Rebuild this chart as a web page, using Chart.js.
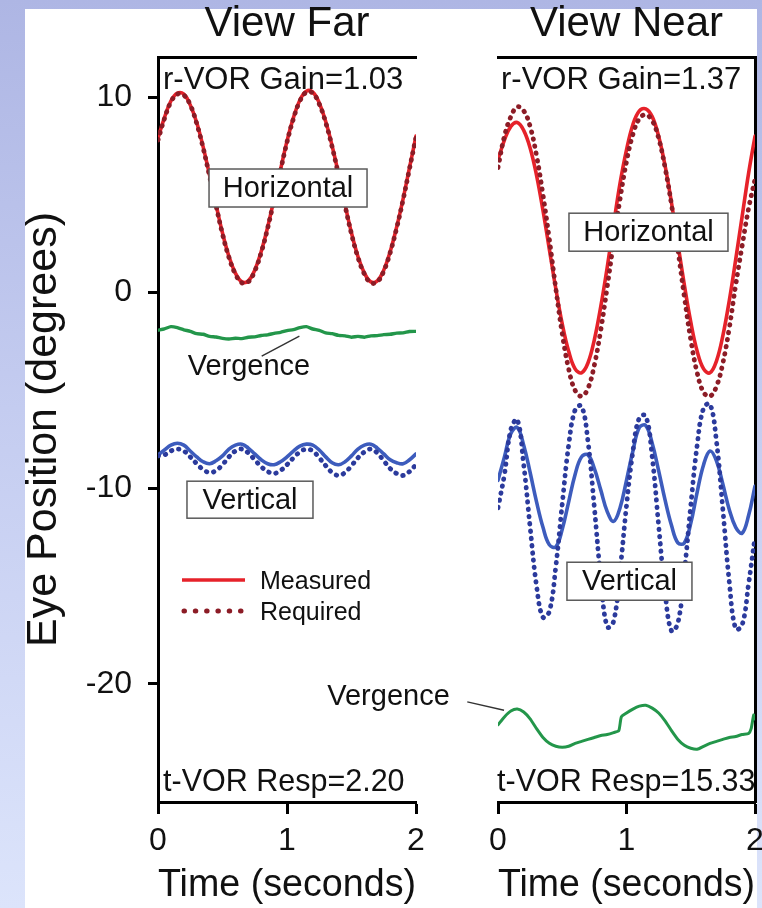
<!DOCTYPE html>
<html><head><meta charset="utf-8">
<script src="https://cdn.jsdelivr.net/npm/chart.js@4.4.1/dist/chart.umd.min.js"></script>
<style>
html,body{margin:0;padding:0;width:762px;height:908px;overflow:hidden;}
body{position:relative;background:linear-gradient(to bottom,#aeb6e4 0%,#c4ccf0 45%,#dce4fb 100%);}
#paper{position:absolute;left:25px;top:9px;width:732px;height:899px;background:#fff;}
canvas{position:absolute;left:0;top:0;}
</style></head><body>
<div id="paper"></div>
<canvas id="far" width="762" height="908"></canvas>
<canvas id="near" width="780" height="908"></canvas>
<script>
// ---------- data ----------
const timeSec = [0,0.05,0.1,0.15,0.2,0.25,0.3,0.35,0.4,0.45,0.5,0.55,0.6,0.65,0.7,0.75,0.8,0.85,0.9,0.95,1,1.05,1.1,1.15,1.2,1.25,1.3,1.35,1.4,1.45,1.5,1.55,1.6,1.65,1.7,1.75,1.8,1.85,1.9,1.95,2];
const xTicks = [0,1,2];
const yTicks = [-20,-10,0,10];

// View Far
const farHorizMeasured = [7.9,8.95,9.8,10.2,10.15,9.6,8.7,7.45,6.0,4.5,3.05,1.85,1.0,0.55,0.6,1.15,2.1,3.35,4.8,6.3,7.75,8.95,9.85,10.3,10.25,9.7,8.75,7.5,6.05,4.5,3.05,1.85,1.0,0.55,0.6,1.15,2.1,3.35,4.8,6.4,8.0];
const farHorizRequired = [7.8,8.9,9.75,10.15,10.1,9.6,8.65,7.4,5.95,4.45,3.0,1.8,0.95,0.5,0.55,1.1,2.05,3.3,4.75,6.25,7.7,8.9,9.8,10.25,10.2,9.65,8.7,7.45,6.0,4.45,3.0,1.8,0.95,0.5,0.55,1.1,2.05,3.3,4.75,6.35,7.95];
const farVergence = [-1.92,-1.85,-1.74,-1.79,-1.9,-1.98,-2.1,-2.13,-2.24,-2.27,-2.34,-2.37,-2.33,-2.35,-2.28,-2.26,-2.19,-2.16,-2.08,-2.03,-1.94,-1.89,-1.79,-1.74,-1.86,-1.93,-2.06,-2.1,-2.19,-2.21,-2.28,-2.24,-2.28,-2.21,-2.2,-2.15,-2.13,-2.07,-2.06,-1.99,-1.98];
const farVertMeasured = [-8.3,-8.05,-7.8,-7.7,-7.8,-8.1,-8.4,-8.65,-8.75,-8.6,-8.35,-8.0,-7.8,-7.75,-7.95,-8.25,-8.55,-8.75,-8.8,-8.65,-8.4,-8.1,-7.85,-7.75,-7.8,-8.05,-8.4,-8.7,-8.8,-8.65,-8.35,-8.0,-7.8,-7.75,-7.95,-8.25,-8.55,-8.7,-8.75,-8.55,-8.25];
const farVertRequired = [-8.35,-8.3,-8.1,-8.0,-8.1,-8.4,-8.75,-9.05,-9.2,-9.1,-8.8,-8.4,-8.1,-8.0,-8.2,-8.55,-8.9,-9.15,-9.25,-9.1,-8.8,-8.45,-8.15,-8.0,-8.1,-8.45,-8.85,-9.2,-9.35,-9.2,-8.85,-8.45,-8.15,-8.0,-8.2,-8.6,-9.0,-9.25,-9.35,-9.15,-8.8];

// View Near
const nearHorizMeasured = [6.8,7.8,8.5,8.7,8.3,7.4,6.0,4.2,2.2,0.2,-1.6,-3.0,-3.9,-4.1,-3.6,-2.4,-0.7,1.3,3.5,5.6,7.3,8.6,9.3,9.4,9.0,8.0,6.5,4.6,2.5,0.4,-1.5,-3.0,-3.9,-4.1,-3.5,-2.2,-0.4,1.7,3.9,6.1,8.0];
const nearHorizRequired = [6.4,8.0,9.0,9.5,9.3,8.5,7.0,5.0,2.7,0.2,-2.1,-3.9,-5.0,-5.3,-4.9,-3.7,-1.9,0.3,2.6,4.8,6.7,8.1,8.9,9.1,8.8,7.9,6.4,4.5,2.2,-0.2,-2.4,-4.1,-5.1,-5.3,-4.8,-3.6,-1.8,0.4,2.4,4.3,5.8];
const nearVertMeasured = [-9.6,-8.4,-7.2,-6.9,-7.8,-9.2,-10.7,-12.0,-12.9,-13.0,-12.1,-10.7,-9.3,-8.4,-8.3,-9.0,-10.1,-11.2,-11.7,-11.0,-9.6,-8.1,-6.9,-6.8,-7.7,-9.1,-10.6,-11.9,-12.8,-12.8,-11.8,-10.2,-8.8,-8.1,-8.6,-9.8,-11.1,-12.0,-12.3,-11.4,-9.9];
const nearVertRequired = [-11.0,-9.3,-7.0,-6.5,-8.8,-12.0,-15.0,-16.6,-16.3,-14.0,-10.8,-7.8,-6.0,-5.8,-7.6,-11.0,-14.6,-17.1,-16.8,-14.2,-10.9,-8.1,-6.4,-6.3,-8.4,-11.9,-15.3,-17.3,-16.9,-14.3,-10.9,-7.8,-5.9,-5.7,-7.6,-11.1,-14.8,-17.2,-17.0,-14.9,-12.5];
const nearVergTime = [0,0.05,0.1,0.15,0.2,0.25,0.3,0.35,0.4,0.45,0.5,0.55,0.6,0.65,0.7,0.75,0.8,0.85,0.9,0.94,0.96,1.0,1.05,1.1,1.15,1.2,1.25,1.3,1.35,1.4,1.45,1.5,1.55,1.6,1.65,1.7,1.75,1.8,1.85,1.9,1.95,1.97,1.99,2.0];
const nearVergence = [-22.1,-21.7,-21.4,-21.3,-21.45,-21.8,-22.3,-22.75,-23.05,-23.2,-23.25,-23.2,-23.05,-22.95,-22.85,-22.75,-22.65,-22.6,-22.5,-22.4,-21.7,-21.5,-21.3,-21.15,-21.1,-21.25,-21.5,-21.9,-22.4,-22.85,-23.15,-23.3,-23.35,-23.2,-23.05,-22.95,-22.85,-22.75,-22.7,-22.6,-22.55,-22.3,-21.6,-21.8];

// ---------- styling ----------
const FAM = "'Liberation Sans', Arial, Helvetica, sans-serif";
const TXT = '#111';
const RED = '#e6222a', DARKRED = '#8c1c26', BLUE = '#3d5cbd', DARKBLUE = '#2b3a9c', GREEN = '#23964a';
const Y_MIN = -26.05, Y_MAX = 12.05;
Chart.defaults.font.family = FAM;
Chart.defaults.color = TXT;

function pts(ts, vs){ return ts.map((t,i)=>({x:t, y:vs[i]})); }
function solid(ts, vs, color, w, tension){
  return {data:pts(ts,vs), borderColor:color, borderWidth:w, pointRadius:0, tension:tension, fill:false, borderCapStyle:'round', borderJoinStyle:'round'};
}
function dotted(ts, vs, color){
  return {data:pts(ts,vs), borderColor:color, borderWidth:4.8, pointRadius:0, tension:0.4, fill:false, borderDash:[0.5,6.8], borderCapStyle:'round'};
}

function overlay(cfg){
  return {
    id:'overlay',
    afterDatasetsDraw(chart){
      const ctx = chart.ctx, a = chart.chartArea, sx = chart.scales.x, sy = chart.scales.y;
      ctx.save();
      ctx.fillStyle = TXT; ctx.textAlign = 'left'; ctx.textBaseline = 'alphabetic';
      ctx.font = '31px ' + FAM;
      ctx.fillText(cfg.topText, a.left + cfg.topDx, a.top + 32);
      ctx.font = '30.5px ' + FAM;
      ctx.fillText(cfg.bottomText, a.left + cfg.bottomDx, a.bottom - 11);
      // boxed labels
      ctx.font = '29px ' + FAM;
      for (const b of cfg.boxes){
        const cx = sx.getPixelForValue(b.t), cy = sy.getPixelForValue(b.v);
        ctx.fillStyle = '#fff';
        ctx.fillRect(cx - b.w/2, cy - b.h/2, b.w, b.h);
        ctx.strokeStyle = '#5a5a5a'; ctx.lineWidth = 1.5; ctx.setLineDash([]);
        ctx.strokeRect(cx - b.w/2, cy - b.h/2, b.w, b.h);
        ctx.fillStyle = TXT; ctx.textAlign = 'center'; ctx.textBaseline = 'middle';
        ctx.fillText(b.text, cx, cy + 1);
      }
      // plain labels with leader lines
      for (const l of cfg.labels){
        ctx.strokeStyle = '#333'; ctx.lineWidth = 1.4;
        ctx.beginPath();
        ctx.moveTo(sx.getPixelForValue(l.from[0]), sy.getPixelForValue(l.from[1]));
        ctx.lineTo(sx.getPixelForValue(l.to[0]), sy.getPixelForValue(l.to[1]));
        ctx.stroke();
        ctx.fillStyle = TXT; ctx.textAlign = 'center'; ctx.textBaseline = 'middle';
        ctx.fillText(l.text, sx.getPixelForValue(l.t), sy.getPixelForValue(l.v));
      }
      if (cfg.legend){
        const x0 = a.left + 24, y1 = a.top + 523, y2 = a.top + 554;
        ctx.strokeStyle = RED; ctx.lineWidth = 3.6; ctx.lineCap = 'butt';
        ctx.beginPath(); ctx.moveTo(x0, y1); ctx.lineTo(x0 + 63, y1); ctx.stroke();
        ctx.strokeStyle = DARKRED; ctx.lineWidth = 5; ctx.lineCap = 'round'; ctx.setLineDash([0.5, 10.8]);
        ctx.beginPath(); ctx.moveTo(x0 + 2, y2); ctx.lineTo(x0 + 60, y2); ctx.stroke();
        ctx.setLineDash([]);
        ctx.font = '25px ' + FAM; ctx.fillStyle = TXT; ctx.textAlign = 'left'; ctx.textBaseline = 'alphabetic';
        ctx.fillText('Measured', a.left + 102, a.top + 532);
        ctx.fillText('Required', a.left + 102, a.top + 563);
      }
      ctx.restore();
    }
  };
}

function baseScales(withLeftAxis, withRightBorder){
  const s = {
    x: {type:'linear', min:0, max:2, position:'bottom',
        afterBuildTicks: sc => { sc.ticks = xTicks.map(v => ({value:v})); },
        afterFit: sc => { sc.height = 106; },
        grid:{drawOnChartArea:false, drawTicks:true, tickLength:12, tickWidth:3, tickColor:'#000'},
        border:{display:true, color:'#000', width:3},
        ticks:{font:{size:32, family:FAM}, color:TXT, padding:8, maxRotation:0, autoSkip:false},
        title:{display:true, text:'Time (seconds)', color:TXT, font:{size:38, family:FAM, lineHeight:1.2}, padding:{top:0, bottom:0}}},
    xTop: {type:'linear', min:0, max:2, position:'top',
        afterFit: sc => { sc.height = 8.7; },
        grid:{display:false}, ticks:{display:false},
        border:{display:true, color:'#000', width:3}}
  };
  if (withLeftAxis){
    s.y = {type:'linear', min:Y_MIN, max:Y_MAX, position:'left',
        afterBuildTicks: sc => { sc.ticks = yTicks.map(v => ({value:v})); },
        afterFit: sc => { sc.width = 158; },
        grid:{drawOnChartArea:false, drawTicks:true, tickLength:10, tickWidth:3, tickColor:'#000'},
        border:{display:true, color:'#000', width:3},
        ticks:{font:{size:32, family:FAM}, color:TXT, padding:16},
        title:{display:true, text:'Eye Position (degrees)', color:TXT, font:{size:43, family:FAM, lineHeight:1.2}, padding:{top:18, bottom:0}}};
  } else {
    s.y = {type:'linear', min:Y_MIN, max:Y_MAX, position:'left', display:false};
  }
  if (withRightBorder){
    s.yRight = {type:'linear', min:Y_MIN, max:Y_MAX, position:'right',
        afterFit: sc => { sc.width = 25; },
        grid:{display:false}, ticks:{display:false},
        border:{display:true, color:'#000', width:3}};
  }
  return s;
}

function makeChart(id, title, datasets, padding, scales, notes){
  return new Chart(document.getElementById(id), {
    type:'line',
    data:{datasets},
    options:{
      responsive:false, animation:false, devicePixelRatio:1,
      layout:{padding},
      plugins:{
        legend:{display:false}, tooltip:{enabled:false},
        title:{display:true, text:title, fullSize:false, color:TXT, font:{size:42, family:FAM, weight:'normal', lineHeight:1.15}, padding:{top:0, bottom:0}}
      },
      scales
    },
    plugins:[overlay(notes)]
  });
}

makeChart('far', 'View Far', [
  dotted(timeSec, farHorizRequired, DARKRED),
  solid(timeSec, farHorizMeasured, RED, 3.6, 0.4),
  dotted(timeSec, farVertRequired, DARKBLUE),
  solid(timeSec, farVertMeasured, BLUE, 3.6, 0.4),
  solid(timeSec, farVergence, GREEN, 3.4, 0.2)
], {left:0, right:346, top:0, bottom:0}, baseScales(true, false), {
  topText:'r-VOR Gain=1.03', topDx:5,
  bottomText:'t-VOR Resp=2.20', bottomDx:5,
  boxes:[{text:'Horizontal', t:1.008, v:5.35, w:158, h:38},
         {text:'Vertical', t:0.713, v:-10.59, w:126, h:37}],
  labels:[{text:'Vergence', t:0.705, v:-3.79, from:[0.804,-3.25], to:[1.096,-2.23]}],
  legend:true
});

makeChart('near', 'View Near', [
  dotted(timeSec, nearHorizRequired, DARKRED),
  solid(timeSec, nearHorizMeasured, RED, 3.6, 0.4),
  dotted(timeSec, nearVertRequired, DARKBLUE),
  solid(timeSec, nearVertMeasured, BLUE, 3.6, 0.4),
  solid(nearVergTime, nearVergence, GREEN, 3.0, 0.2)
], {left:498, right:0, top:0, bottom:0}, baseScales(false, true), {
  topText:'r-VOR Gain=1.37', topDx:3,
  bottomText:'t-VOR Resp=15.33', bottomDx:-1,
  boxes:[{text:'Horizontal', t:1.171, v:3.09, w:159, h:38},
         {text:'Vertical', t:1.023, v:-14.76, w:125, h:38}],
  labels:[{text:'Vergence', t:-0.852, v:-20.67, from:[-0.239,-20.93], to:[0.047,-21.36]}],
  legend:false
});
</script></body></html>
